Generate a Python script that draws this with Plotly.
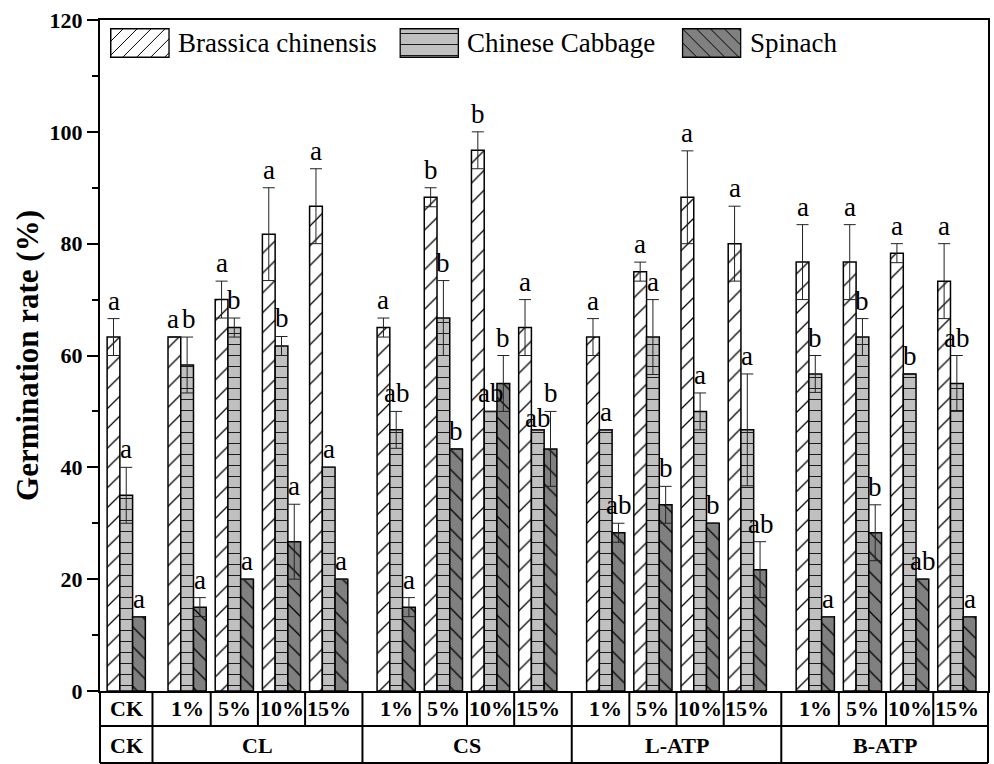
import base64
import plotly.graph_objects as go

# ---------------- data ----------------
families = ["CK", "CL", "CS", "L-ATP", "B-ATP"]
family_levels = [["CK"], ["1%", "5%", "10%", "15%"], ["1%", "5%", "10%", "15%"],
                 ["1%", "5%", "10%", "15%"], ["1%", "5%", "10%", "15%"]]

series_names = ["Brassica chinensis", "Chinese Cabbage", "Spinach"]

brassica = [63.3, 63.3, 70.0, 81.7, 86.7, 65.0, 88.3, 96.7, 65.0,
            63.3, 75.0, 88.3, 80.0, 76.7, 76.7, 78.3, 73.3]
brassica_err = [3.3, 0.0, 3.3, 8.3, 6.7, 1.7, 1.7, 3.3, 5.0,
                3.3, 1.7, 8.3, 6.7, 6.7, 6.7, 1.7, 6.7]
brassica_sig = ["a", "a", "a", "a", "a", "a", "b", "b", "a",
                "a", "a", "a", "a", "a", "a", "a", "a"]

cabbage = [35.0, 58.3, 65.0, 61.7, 40.0, 46.7, 66.7, 50.0, 46.7,
           46.7, 63.3, 50.0, 46.7, 56.7, 63.3, 56.7, 55.0]
cabbage_err = [5.0, 5.0, 1.7, 1.7, 0.0, 3.3, 6.7, 0.0, 0.0,
               0.0, 6.7, 3.3, 10.0, 3.3, 3.3, 0.0, 5.0]
cabbage_sig = ["a", "b", "b", "b", "a", "ab", "b", "ab", "ab",
               "a", "a", "a", "a", "b", "b", "b", "ab"]

spinach = [13.3, 15.0, 20.0, 26.7, 20.0, 15.0, 43.3, 55.0, 43.3,
           28.3, 33.3, 30.0, 21.7, 13.3, 28.3, 20.0, 13.3]
spinach_err = [0.0, 1.7, 0.0, 6.7, 0.0, 1.7, 0.0, 5.0, 6.7,
               1.7, 3.3, 0.0, 5.0, 0.0, 5.0, 0.0, 0.0]
spinach_sig = ["a", "a", "a", "a", "a", "a", "b", "b", "b",
               "ab", "b", "b", "ab", "a", "b", "ab", "a"]

# ---------------- layout helpers (positions) ----------------
family_starts = [0.0, 1.29, 5.72, 10.16, 14.6]
positions = []
fam_of = []
for fi, (start, levels) in enumerate(zip(family_starts, family_levels)):
    for k in range(len(levels)):
        positions.append(start + k)
        fam_of.append(fi)
level_labels = [lv for levels in family_levels for lv in levels]

x_left, x_right = -0.556, 18.26
bargap = 0.19
bar_w = (1 - bargap) / 3

SERIF = "Liberation Serif, Tinos, Times New Roman, DejaVu Serif, serif"

PLOT_LEFT, PLOT_RIGHT = 100, 990
PLOT_TOP, PLOT_BOTTOM = 20, 691
W = PLOT_RIGHT - PLOT_LEFT
H = PLOT_BOTTOM - PLOT_TOP

# pixel nudges for a few significance letters (series index, group index)
label_nudge = {(1, 8): (0, -6), (0, 1): (-1, 0), (1, 1): (2, 0)}


def px(p):
    return (p - PLOT_LEFT) / W


def py(p):
    return (PLOT_BOTTOM - p) / H


# ---------------- figure ----------------
fig = go.Figure()

styles = [
    dict(color="#ffffff", shape="/", fg="#000000", size=14),
    dict(color="#c0c0c0", shape="-", fg="#1a1a1a", size=11),
    dict(color="#808080", shape="\\", fg="#000000", size=14),
]
values = [brassica, cabbage, spinach]
errors = [brassica_err, cabbage_err, spinach_err]
sigs = [brassica_sig, cabbage_sig, spinach_sig]

for i, name in enumerate(series_names):
    st = styles[i]
    fig.add_trace(go.Bar(
        x=positions, y=values[i], name=name, showlegend=False,
        marker=dict(color=st["color"],
                    line=dict(color="black", width=1.5),
                    pattern=dict(shape=st["shape"], fgcolor=st["fg"],
                                 bgcolor=st["color"], size=st["size"],
                                 solidity=0.09, fillmode="replace")),
        error_y=dict(type="data", array=errors[i], symmetric=True,
                     color="#222222", thickness=1, width=6),
    ))

annotations = []
for i in range(3):
    off = (i - 1) * bar_w
    for g, (p, v, e, s) in enumerate(zip(positions, values[i], errors[i], sigs[i])):
        dx, dy = label_nudge.get((i, g), (0, 0))
        annotations.append(dict(x=p + off, y=v + e, xref="x", yref="y", text=s,
                                showarrow=False, xanchor="center", yanchor="bottom",
                                xshift=dx, yshift=1 + dy,
                                font=dict(family=SERIF, size=27, color="black")))


# ---------------- legend (large pattern swatches) ----------------
def swatch_svg(st):
    s = st["size"]
    if st["shape"] == "/":
        path = f"M0,{s} L{s},0 M-1,1 L1,-1 M{s-1},{s+1} L{s+1},{s-1}"
    elif st["shape"] == "\\":
        path = f"M0,0 L{s},{s} M{s-1},-1 L{s+1},1 M-1,{s-1} L1,{s+1}"
    else:
        path = f"M0,{s/2} L{s},{s/2}"
    svg = (
        "<svg xmlns='http://www.w3.org/2000/svg' width='60' height='30' viewBox='0 0 60 30'>"
        f"<defs><pattern id='p' patternUnits='userSpaceOnUse' width='{s}' height='{s}'>"
        f"<rect width='{s}' height='{s}' fill='{st['color']}'/>"
        f"<path d='{path}' stroke='{st['fg']}' stroke-width='1'/></pattern></defs>"
        "<rect x='0.75' y='0.75' width='58.5' height='28.5' fill='url(#p)' "
        "stroke='black' stroke-width='1.5'/></svg>"
    )
    return "data:image/svg+xml;base64," + base64.b64encode(svg.encode()).decode()


legend_swatch_left = [110, 400, 683]
legend_top, legend_h, legend_w = 28, 30, 60
images = []
for i, name in enumerate(series_names):
    x0 = legend_swatch_left[i]
    images.append(dict(source=swatch_svg(styles[i]), xref="paper", yref="paper",
                       x=px(x0), y=py(legend_top), sizex=legend_w / W,
                       sizey=legend_h / H, xanchor="left", yanchor="top",
                       sizing="stretch", layer="above"))
    annotations.append(dict(x=px(x0 + legend_w + 6), y=py(legend_top + legend_h / 2),
                            xref="paper", yref="paper", text=name,
                            showarrow=False, xanchor="left", yanchor="middle",
                            font=dict(family=SERIF, size=27, color="black")))

# ---------------- table under the axis ----------------
row1_bot = py(726)
row2_bot = py(763)
row1_mid = py(708.5)
row2_mid = py(745)

shapes = []
line = dict(color="black", width=2)
for yv in (row1_bot, row2_bot):
    shapes.append(dict(type="line", xref="paper", yref="paper", x0=0, x1=1,
                       y0=yv, y1=yv, line=line))
for xv in (0, 1):
    shapes.append(dict(type="line", xref="paper", yref="paper", x0=xv, x1=xv,
                       y0=0, y1=row2_bot, line=line))
bounds = [2 * positions[0] - x_left]
for a, b in zip(positions[1:-1], positions[2:]):
    bounds.append((a + b) / 2)
fam_bounds = []
for j, b in enumerate(bounds):
    full = fam_of[j] != fam_of[j + 1]
    if full:
        fam_bounds.append(b)
    shapes.append(dict(type="line", xref="x", yref="paper", x0=b, x1=b,
                       y0=0, y1=(row2_bot if full else row1_bot), line=line))

for p, lab in zip(positions, level_labels):
    annotations.append(dict(x=p, y=row1_mid, xref="x", yref="paper", text=lab,
                            showarrow=False, yanchor="middle",
                            font=dict(family=SERIF, size=22, color="black",
                                      weight="bold")))
edges = [x_left] + fam_bounds + [x_right]
for fi, fam in enumerate(families):
    annotations.append(dict(x=(edges[fi] + edges[fi + 1]) / 2, y=row2_mid,
                            xref="x", yref="paper", text=fam, showarrow=False,
                            yanchor="middle",
                            font=dict(family=SERIF, size=22, color="black",
                                      weight="bold")))

fig.update_layout(
    width=994, height=764,
    margin=dict(l=PLOT_LEFT, r=994 - PLOT_RIGHT, t=PLOT_TOP, b=764 - PLOT_BOTTOM),
    paper_bgcolor="white", plot_bgcolor="white",
    barmode="group", bargap=bargap, bargroupgap=0,
    showlegend=False,
    shapes=shapes, annotations=annotations, images=images,
    font=dict(family=SERIF, color="black"),
)
fig.update_xaxes(range=[x_left, x_right], showticklabels=False, ticks="",
                 showgrid=False, zeroline=False, showline=True, mirror=True,
                 linecolor="black", linewidth=2)
fig.update_yaxes(range=[0, 120], dtick=20, tick0=0, ticks="outside", ticklen=11,
                 tickwidth=2, tickcolor="black",
                 minor=dict(dtick=10, ticks="outside", ticklen=6, tickwidth=2,
                            tickcolor="black", showgrid=False),
                 showgrid=False, zeroline=False, showline=True, mirror=True,
                 linecolor="black", linewidth=2,
                 tickfont=dict(family=SERIF, size=22, color="black", weight="bold"),
                 title=dict(text="Germination rate (%)", standoff=2,
                            font=dict(family=SERIF, size=31, color="black",
                                      weight="bold")))

fig.write_html("out.html")
